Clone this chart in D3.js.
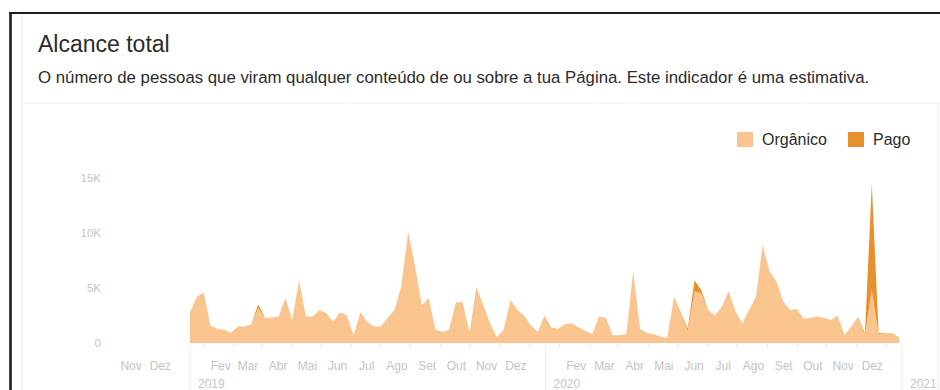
<!DOCTYPE html>
<html>
<head>
<meta charset="utf-8">
<script src="https://cdn.jsdelivr.net/npm/d3@7"></script>
<style>
  html, body { margin: 0; padding: 0; background: #fff; }
  svg { display: block; font-family: "Liberation Sans", Arial, sans-serif; }
</style>
</head>
<body>
<svg id="chart" width="940" height="390"></svg>
<script>
// Alcance semanal da Página (milhares de pessoas), jan 2019 – dez 2020
const inicio = new Date(Date.UTC(2019, 0, 1));
const fim = new Date(Date.UTC(2020, 11, 31));

// Alcance total por semana (orgânico + pago), em milhares
const alcanceTotal = [
  2.8, 4.2, 4.6, 1.6, 1.3, 1.2, 0.9, 1.5, 1.5, 1.7,
  3.5, 2.3, 2.3, 2.4, 4.1, 2.1, 5.7, 2.4, 2.4, 3.0,
  2.7, 1.9, 2.8, 2.5, 0.7, 2.8, 1.9, 1.5, 1.5, 2.3,
  3.0, 5.2, 10.1, 7.0, 3.4, 4.1, 1.2, 1.0, 1.2, 3.7,
  3.7, 0.9, 5.1, 3.5, 1.8, 0.5, 1.2, 3.9, 3.0, 2.5,
  1.6, 1.0, 2.5, 1.4, 1.3, 1.7, 1.8, 1.4, 1.1, 0.8,
  2.4, 2.3, 0.7, 0.7, 0.8, 6.5, 1.3, 0.9, 0.8, 0.6,
  0.45, 4.2, 2.8, 1.3, 5.7, 4.8, 3.0, 2.5, 3.3, 4.7,
  2.9, 1.8, 3.0, 4.2, 8.9, 6.5, 5.6, 3.8, 3.0, 3.1,
  2.2, 2.3, 2.4, 2.3, 2.1, 2.5, 0.7, 1.5, 2.4, 0.9,
  14.5, 0.9, 0.9, 0.9, 0.5
];

// Parte paga do alcance por semana, em milhares
const alcancePago = [
  0, 0, 0, 0, 0, 0, 0, 0, 0, 0,
  0.35, 0, 0, 0, 0, 0, 0, 0, 0, 0,
  0, 0, 0, 0, 0, 0, 0, 0, 0, 0,
  0, 0, 0, 0, 0, 0, 0, 0, 0, 0,
  0, 0, 0, 0, 0, 0, 0, 0, 0, 0,
  0, 0, 0, 0, 0, 0, 0, 0, 0, 0,
  0, 0, 0, 0, 0, 0, 0, 0, 0, 0,
  0, 0, 0, 0.2, 1.0, 0.3, 0, 0, 0, 0,
  0, 0, 0, 0, 0, 0, 0, 0, 0, 0,
  0, 0, 0, 0, 0, 0, 0, 0, 0, 0.15,
  9.7, 0.1, 0, 0, 0
];

const nomesMeses = ["Jan", "Fev", "Mar", "Abr", "Mai", "Jun", "Jul", "Ago", "Set", "Out", "Nov", "Dez"];
const valoresEixoY = [0, 5000, 10000, 15000];
const rotulosEixoY = ["0", "5K", "10K", "15K"];
const series = ["Orgânico", "Pago"];
const cores = ["#f9c48d", "#e8912c"];

const semanas = d3.utcDay.range(inicio, d3.utcDay.offset(fim, 1), 7);
const dados = semanas.map((d, i) => ({
  data: d,
  organico: (alcanceTotal[i] - alcancePago[i]) * 1000,
  pago: alcancePago[i] * 1000
}));

const svg = d3.select("#chart");

// Moldura da página
svg.append("rect").attr("x", 0).attr("y", 0).attr("width", 940).attr("height", 390).attr("fill", "#fff");
svg.append("line").attr("x1", 22).attr("x2", 22).attr("y1", 14).attr("y2", 390)
  .attr("stroke", "#e6e6e6").attr("stroke-width", 1);
svg.append("line").attr("x1", 22).attr("x2", 940).attr("y1", 103).attr("y2", 103)
  .attr("stroke", "#f0f0f0").attr("stroke-width", 1);
svg.append("line").attr("x1", 938).attr("x2", 938).attr("y1", 103).attr("y2", 390)
  .attr("stroke", "#ececec").attr("stroke-width", 1);
svg.append("line").attr("x1", 9).attr("x2", 940).attr("y1", 13).attr("y2", 13)
  .attr("stroke", "#1e1e1e").attr("stroke-width", 2.2);
svg.append("line").attr("x1", 10.5).attr("x2", 10.5).attr("y1", 12).attr("y2", 390)
  .attr("stroke", "#1e1e1e").attr("stroke-width", 2.6);

// Título e descrição
svg.append("text").attr("x", 38).attr("y", 52)
  .attr("font-size", 23).attr("fill", "#2b2b2b")
  .text("Alcance total");
svg.append("text").attr("x", 38).attr("y", 83)
  .attr("font-size", 16.8).attr("fill", "#2b2b2b")
  .text("O número de pessoas que viram qualquer conteúdo de ou sobre a tua Página. Este indicador é uma estimativa.");

// Escalas
const x = d3.scaleUtc().domain([inicio, d3.utcDay.offset(fim, 1)]).range([190, 902]);
const y = d3.scaleLinear().domain([0, 15000]).range([343, 178]);

// Eixo Y
const eixoY = svg.append("g").attr("transform", "translate(101,0)")
  .call(d3.axisLeft(y).tickValues(valoresEixoY).tickFormat((d, i) => rotulosEixoY[i]).tickSize(0).tickPadding(0));
eixoY.select(".domain").remove();
eixoY.selectAll("text").attr("fill", "#c4c4c4").attr("font-size", 11.5)
  .attr("font-family", "'Liberation Sans', Arial, sans-serif");

// Eixo X: meses (janeiro dá lugar ao ano)
const inicioEixo = new Date(Date.UTC(2018, 10, 1));
const mesesEixo = d3.utcMonth.range(inicioEixo, d3.utcDay.offset(fim, 1));
const mesesComRotulo = mesesEixo.filter(d => d.getUTCMonth() !== 0);
const eixoX = svg.append("g").attr("transform", "translate(0,361)")
  .call(d3.axisBottom(x).tickValues(mesesComRotulo)
    .tickFormat(d => nomesMeses[d.getUTCMonth()]).tickSize(0).tickPadding(0));
eixoX.select(".domain").remove();
eixoX.selectAll("text").attr("fill", "#c4c4c4").attr("font-size", 12)
  .attr("font-family", "'Liberation Sans', Arial, sans-serif");

// Pequenas marcas a meio de cada mês
const marcas = mesesEixo.filter(d => d >= inicio).map(d => d3.utcDay.offset(d, 14));
const eixoMarcas = svg.append("g").attr("transform", "translate(0,344)")
  .call(d3.axisBottom(x).tickValues(marcas).tickFormat("").tickSize(3));
eixoMarcas.select(".domain").remove();
eixoMarcas.selectAll("line").attr("stroke", "#e2e2e2");

// Separadores de ano e rótulos do ano
const anos = d3.utcYear.range(inicio, new Date(Date.UTC(2021, 0, 2)));
svg.append("g").selectAll("line").data(anos).join("line")
  .attr("x1", d => x(d)).attr("x2", d => x(d))
  .attr("y1", 345).attr("y2", 390)
  .attr("stroke", "#ececec");
svg.append("g").selectAll("text").data(anos).join("text")
  .attr("x", d => x(d) + 8).attr("y", 388)
  .attr("font-size", 12).attr("fill", "#c4c4c4")
  .text(d => d.getUTCFullYear());

// Áreas empilhadas
const pilha = d3.stack().keys(["organico", "pago"])(dados);
const area = d3.area()
  .x(d => x(d.data.data))
  .y0(d => y(d[0]))
  .y1(d => y(d[1]))
  .curve(d3.curveLinear);

svg.append("g").selectAll("path").data(pilha).join("path")
  .attr("d", area)
  .attr("fill", (d, i) => cores[i]);

// Legenda
const legenda = svg.append("g");
const posLegenda = [737, 848];
series.forEach((s, i) => {
  legenda.append("rect").attr("x", posLegenda[i]).attr("y", 132)
    .attr("width", 16).attr("height", 15).attr("fill", cores[i]);
  legenda.append("text").attr("x", posLegenda[i] + 25).attr("y", 145)
    .attr("font-size", 16).attr("fill", "#2b2b2b").text(s);
});
</script>
</body>
</html>
